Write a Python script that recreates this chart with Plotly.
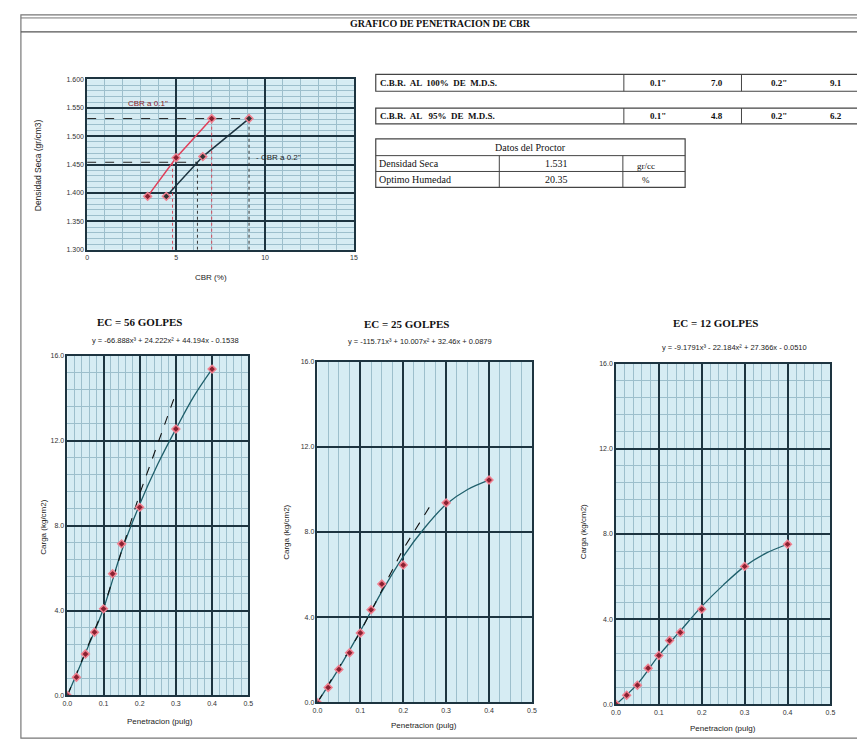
import plotly.graph_objects as go

W, H = 865, 741

# ---------------- data ----------------
# top chart: CBR vs dry density
cbr_01 = [3.4, 5.0, 7.0]
dens_01 = [1.394, 1.462, 1.531]
cbr_02 = [4.45, 6.5, 9.1]
dens_02 = [1.394, 1.464, 1.531]
mds = 1.531
mds95 = 1.454
cbr100 = [7.0, 9.1]   # 0.1", 0.2"
cbr95 = [4.8, 6.2]
dens_ticks = [1.300, 1.350, 1.400, 1.450, 1.500, 1.550, 1.600]

# bottom charts: penetration vs load (measured points)
pen = [0.0, 0.025, 0.05, 0.075, 0.1, 0.125, 0.15, 0.2, 0.3, 0.4]
load_56 = [0.0, 0.86, 1.95, 2.98, 4.08, 5.73, 7.14, 8.86, 12.55, 15.37]
load_25 = [0.0, 0.70, 1.55, 2.33, 3.26, 4.35, 5.56, 6.45, 9.37, 10.44]
load_12 = [0.0, 0.43, 0.90, 1.70, 2.30, 3.00, 3.38, 4.47, 6.48, 7.52]
# trendline curves
trend_pen = [0.0, 0.05, 0.1, 0.15, 0.2, 0.25, 0.3, 0.35, 0.4]
trend_56 = [0.0, 2.0, 4.1, 6.8, 9.0, 10.9, 12.55, 14.1, 15.37]
trend_25 = [0.0, 1.6, 3.35, 5.2, 6.85, 8.2, 9.3, 10.0, 10.44]
trend_12 = [0.0, 0.95, 2.3, 3.45, 4.6, 5.6, 6.48, 7.1, 7.52]
# correction (tangent) lines
corr_pen_56 = [0.0, 0.1, 0.2, 0.295]
corr_load_56 = [0.0, 4.1, 9.5, 14.0]
corr_pen_25 = [0.0, 0.1, 0.2, 0.265]
corr_load_25 = [0.0, 3.3, 7.2, 9.3]

titles = ["EC = 56 GOLPES", "EC = 25 GOLPES", "EC = 12 GOLPES"]
equations = ["y = -66.888x³ + 24.222x² + 44.194x - 0.1538",
             "y = -115.71x³ + 10.007x² + 32.46x + 0.0879",
             "y = -9.1791x³ - 22.184x² + 27.366x - 0.0510"]

# ---------------- helpers ----------------
def fx(px):
    return px / W

def fy(py):
    return 1 - py / H

BG = "#d6ecf3"
MAJ = "#1d3440"
MIN = "#9dbfcc"
TICKF = dict(family="Liberation Sans", size=7, color="#333")

fig = go.Figure()

# ---------------- top chart ----------------
fig.add_trace(go.Scatter(x=[0, cbr100[1]], y=[mds, mds], mode="lines",
                         line=dict(color="#222", width=1, dash="dash"), xaxis="x", yaxis="y"))
fig.add_trace(go.Scatter(x=[0, cbr95[1]], y=[mds95, mds95], mode="lines",
                         line=dict(color="#222", width=1, dash="dash"), xaxis="x", yaxis="y"))
for xv, col, yv in [(cbr95[0], "#d24a5a", mds95), (cbr95[1], "#333", mds95),
                    (cbr100[0], "#d24a5a", mds), (cbr100[1], "#333", mds)]:
    fig.add_trace(go.Scatter(x=[xv, xv], y=[1.30, yv], mode="lines",
                             line=dict(color=col, width=1, dash="dot"), xaxis="x", yaxis="y"))
fig.add_trace(go.Scatter(x=cbr_01, y=dens_01, mode="lines+markers",
                         line=dict(color="#e0405a", width=1.5),
                         marker=dict(symbol="diamond", size=6, color="#8a2030", line=dict(color="#f08090", width=1.5)),
                         xaxis="x", yaxis="y"))
fig.add_trace(go.Scatter(x=cbr_02, y=dens_02, mode="lines+markers",
                         line=dict(color="#1d3440", width=1.5),
                         marker=dict(symbol="diamond", size=6, color="#333", line=dict(color="#f08090", width=1.5)),
                         xaxis="x", yaxis="y"))

layout_axes = {}
layout_axes["xaxis"] = dict(domain=[fx(75), fx(345)], range=[0, 15], anchor="y",
                            tickvals=[0, 5, 10, 15], ticktext=["0", "5", "10", "15"],
                            showgrid=True, gridcolor=MAJ, gridwidth=1.5,
                            minor=dict(dtick=1, showgrid=True, gridcolor=MIN, gridwidth=0.7),
                            showline=True, mirror=True, linecolor=MAJ, linewidth=1.5,
                            tickfont=TICKF, zeroline=False, ticks="")
layout_axes["yaxis"] = dict(domain=[fy(240), fy(68)], range=[1.30, 1.60], anchor="x",
                            tickvals=dens_ticks, ticktext=[f"{v:.3f}" for v in dens_ticks],
                            showgrid=True, gridcolor=MAJ, gridwidth=1.5,
                            minor=dict(dtick=0.01, showgrid=True, gridcolor=MIN, gridwidth=0.6),
                            showline=True, mirror=True, linecolor=MAJ, linewidth=1.5,
                            tickfont=TICKF, zeroline=False, ticks="")

# ---------------- bottom charts ----------------
boxes = [(55, 238, 347, 690), (308, 525, 353, 697), (610, 827, 355, 699)]
loads = [load_56, load_25, load_12]
trends = [trend_56, trend_25, trend_12]
corrs = [(corr_pen_56, corr_load_56), (corr_pen_25, corr_load_25), None]
xminor = [0.02, 0.025, 0.02]
yminor = [0.8, None, 0.8]
for i in range(3):
    xa = f"x{i+2}"
    ya = f"y{i+2}"
    fig.add_trace(go.Scatter(x=trend_pen, y=trends[i], mode="lines",
                             line=dict(color="#1f5f6b", width=1.3, shape="spline", smoothing=1.0),
                             xaxis=xa, yaxis=ya))
    if corrs[i] is not None:
        fig.add_trace(go.Scatter(x=corrs[i][0], y=corrs[i][1], mode="lines",
                                 line=dict(color="#111", width=1.1, dash="dash"), xaxis=xa, yaxis=ya))
    fig.add_trace(go.Scatter(x=pen, y=loads[i], mode="markers",
                             marker=dict(symbol="diamond", size=6, color="#8a2030", line=dict(color="#f08090", width=1.5)),
                             xaxis=xa, yaxis=ya))
    l, r, t, b = boxes[i]
    layout_axes[f"xaxis{i+2}"] = dict(domain=[fx(l), fx(r)], range=[0, 0.5], anchor=ya,
                                      tickvals=[0, 0.1, 0.2, 0.3, 0.4, 0.5],
                                      ticktext=["0.0", "0.1", "0.2", "0.3", "0.4", "0.5"],
                                      showgrid=True, gridcolor=MAJ, gridwidth=1.5,
                                      minor=dict(dtick=xminor[i], showgrid=True, gridcolor=MIN, gridwidth=0.7),
                                      showline=True, mirror=True, linecolor=MAJ, linewidth=1.5,
                                      tickfont=TICKF, zeroline=False, ticks="")
    ydict = dict(domain=[fy(b), fy(t)], range=[0, 16], anchor=xa,
                 tickvals=[0, 4, 8, 12, 16], ticktext=["0.0", "4.0", "8.0", "12.0", "16.0"],
                 showgrid=True, gridcolor=MAJ, gridwidth=1.5,
                 showline=True, mirror=True, linecolor=MAJ, linewidth=1.5,
                 tickfont=TICKF, zeroline=False, ticks="")
    if yminor[i]:
        ydict["minor"] = dict(dtick=yminor[i], showgrid=True, gridcolor=MIN, gridwidth=0.6)
    layout_axes[f"yaxis{i+2}"] = ydict

# ---------------- shapes (frame + tables) ----------------
shapes = []
def rect(x0, y0, x1, y1, w=1, col="#444"):
    shapes.append(dict(type="rect", xref="paper", yref="paper", x0=fx(x0), x1=fx(x1), y0=fy(y1), y1=fy(y0),
                       line=dict(color=col, width=w), fillcolor="rgba(0,0,0,0)", layer="below"))
def line(x0, y0, x1, y1, w=1, col="#444"):
    shapes.append(dict(type="line", xref="paper", yref="paper", x0=fx(x0), x1=fx(x1), y0=fy(y0), y1=fy(y1),
                       line=dict(color=col, width=w)))

rect(8, 3, 858, 733, 1.2, "#777")
line(8, 6, 858, 6, 1, "#777")
line(8, 20, 858, 20, 1.2, "#555")

rect(367, 63, 855, 80, 1.2)
line(618, 63, 618, 80)
line(737, 63, 737, 80)
rect(367, 97, 855, 113, 1.2)
line(618, 97, 618, 113)
line(737, 97, 737, 113)

rect(367, 128, 680, 177, 1.2)
line(367, 145, 680, 145)
line(367, 161, 680, 161)
line(492, 145, 492, 177)
line(617, 145, 617, 177)

# ---------------- annotations ----------------
ann = []
def txt(x, y, s, size=7, family="Liberation Serif", color="#111", xanchor="center", angle=0):
    ann.append(dict(x=fx(x), y=fy(y), xref="paper", yref="paper", text=s, showarrow=False,
                    font=dict(family=family, size=size, color=color), xanchor=xanchor, yanchor="middle",
                    textangle=angle))

txt(432, 12, "<b>GRAFICO DE PENETRACION DE CBR</b>", 10)

txt(369, 71.5, "<b>C.B.R.  AL  100%  DE  M.D.S.</b>", 9, xanchor="left")
txt(653, 71.5, "<b>0.1\"</b>", 9)
txt(712, 71.5, f"<b>{cbr100[0]:.1f}</b>", 9)
txt(775, 71.5, "<b>0.2\"</b>", 9)
txt(833, 71.5, f"<b>{cbr100[1]:.1f}</b>", 9)
txt(369, 105, "<b>C.B.R.  AL   95%  DE  M.D.S.</b>", 9, xanchor="left")
txt(653, 105, "<b>0.1\"</b>", 9)
txt(712, 105, f"<b>{cbr95[0]:.1f}</b>", 9)
txt(775, 105, "<b>0.2\"</b>", 9)
txt(833, 105, f"<b>{cbr95[1]:.1f}</b>", 9)

txt(524, 137, "Datos del Proctor", 10)
txt(368, 153, "Densidad Seca", 10, xanchor="left")
txt(550, 153, f"{mds:.3f}", 10)
txt(640, 155, "gr/cc", 9)
txt(368, 169, "Optimo Humedad", 10, xanchor="left")
txt(550, 169, "20.35", 10)
txt(640, 170, "%", 9)

txt(137, 92, "CBR a 0.1\"", 8, "Liberation Sans", "#8a1a2a")
txt(244, 147, "- CBR a 0.2\"", 8, "Liberation Sans", "#222", xanchor="left")
txt(25, 155, "Densidad Seca (gr/cm3)", 8.5, "Liberation Sans", "#222", angle=-90)
txt(200, 268, "CBR (%)", 8, "Liberation Sans", "#222")

title_pos = [(128, 313), (398, 315), (711, 314)]
eq_pos = [(154, 332), (412, 333), (730, 339)]
xt_pos = [(149, 716), (416, 720), (718, 723)]
yt_pos = [(30, 520), (276, 525), (577, 525)]
for i in range(3):
    txt(*title_pos[i], f"<b>{titles[i]}</b>", 11)
    txt(*eq_pos[i], equations[i], 7.5, "Liberation Sans", "#222")
    txt(*xt_pos[i], "Penetracion (pulg)", 8, "Liberation Sans", "#222")
    txt(*yt_pos[i], "Carga (kg/cm2)", 8, "Liberation Sans", "#222", angle=-90)

fig.update_layout(width=W, height=H, margin=dict(l=0, r=0, t=0, b=0, pad=0),
                  paper_bgcolor="white", plot_bgcolor=BG, showlegend=False,
                  shapes=shapes, annotations=ann, **layout_axes)

fig.write_html("out.html")
